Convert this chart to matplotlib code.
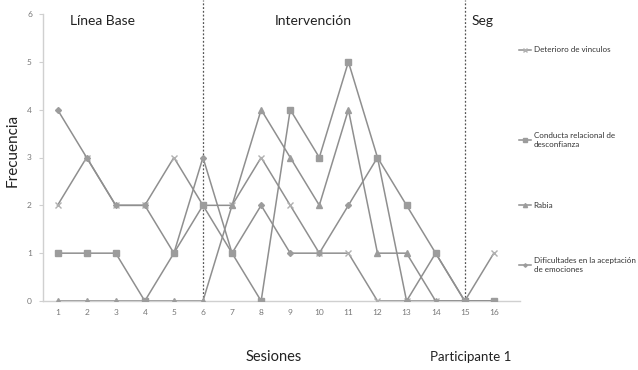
import numpy as np
import matplotlib
matplotlib.use('Agg')
from matplotlib import pyplot as plt

plt.rcParams['font.family'] = ['Lato', 'DejaVu Sans']

sesiones = np.arange(1, 17)
deterioro = [2, 3, 2, 2, 3, 2, 2, 3, 2, 1, 1, 0, 0, 0, 0, 1]
conducta = [1, 1, 1, 0, 1, 2, 1, 0, 4, 3, 5, 3, 2, 1, 0, 0]
rabia = [0, 0, 0, 0, 0, 0, 2, 4, 3, 2, 4, 1, 1, 0, 0, 0]
dificultades = [4, 3, 2, 2, 1, 3, 1, 2, 1, 1, 2, 3, 0, 1, 0, 0]

nombres = ['Deterioro de vinculos',
           'Conducta relacional de\ndesconfianza',
           'Rabia',
           'Dificultades en la aceptación\nde emociones']
fases = [(2.55, 'Línea Base'), (9.8, 'Intervención'), (15.6, 'Seg')]
cortes = [6, 15]

line_c = '#8f8f8f'
mark_c = '#9c9c9c'
axis_c = '#d0d0d0'

fig = plt.figure(figsize=(6.38, 3.70), dpi=100)
ax = fig.add_axes([43 / 638, 69 / 370, (520 - 43) / 638, 287 / 370])

l_det, = ax.plot(sesiones, deterioro, color=line_c, lw=1.1, marker='x', ms=5,
                 mec='#b0b0b0', mew=1.0, zorder=3)
l_dif, = ax.plot(sesiones, dificultades, color=line_c, lw=1.1, marker='D', ms=3,
                 mfc=mark_c, mec=mark_c, zorder=3)
l_rab, = ax.plot(sesiones, rabia, color=line_c, lw=1.1, marker='^', ms=5,
                 mfc=mark_c, mec=mark_c, zorder=4)
l_con, = ax.plot(sesiones, conducta, color=line_c, lw=1.1, marker='s', ms=5,
                 mfc=mark_c, mec=mark_c, zorder=5)

for c in cortes:
    ax.plot([c, c], [0, 6.3], color='#555555', lw=0.9, ls=(0, (1.5, 1.5)),
            clip_on=False, zorder=2)

ax.set_xlim(0.5, 16.9)
ax.set_ylim(0, 6)
ax.set_xticks(sesiones)
ax.set_yticks(range(7))
for s in ['top', 'right']:
    ax.spines[s].set_visible(False)
for s in ['left', 'bottom']:
    ax.spines[s].set_color(axis_c)
    ax.spines[s].set_linewidth(1.0)
ax.tick_params(axis='both', labelsize=6, colors='#777777', length=0, pad=6)
ax.tick_params(axis='y', length=3, color=axis_c, pad=5)

for x, t in fases:
    ax.text(x, 5.86, t, ha='center', va='center', fontsize=10, color='#222222')

fig.text(13 / 638, 1 - 150 / 370, 'Frecuencia', rotation=90, ha='center',
         va='center', fontsize=11, color='#222222')
fig.text(274 / 638, 1 - 357 / 370, 'Sesiones', ha='center', va='center',
         fontsize=10.5, color='#222222')
fig.text(471 / 638, 1 - 357 / 370, 'Participante 1', ha='center', va='center',
         fontsize=9.5, color='#222222')

# one legend per entry, placed like the Excel legend
entradas = [(l_det, nombres[0], 50), (l_con, nombres[1], 140),
            (l_rab, nombres[2], 205), (l_dif, nombres[3], 265)]
for h, txt, yy in entradas:
    leg = fig.legend([h], [txt], loc='center left',
                     bbox_to_anchor=(515 / 638, 1 - yy / 370),
                     frameon=False, fontsize=5.8, handlelength=1.5,
                     handletextpad=0.3, markerscale=0.6, borderpad=0)
    for t in leg.get_texts():
        t.set_color('#333333')

fig.savefig('out.png', dpi=100)
